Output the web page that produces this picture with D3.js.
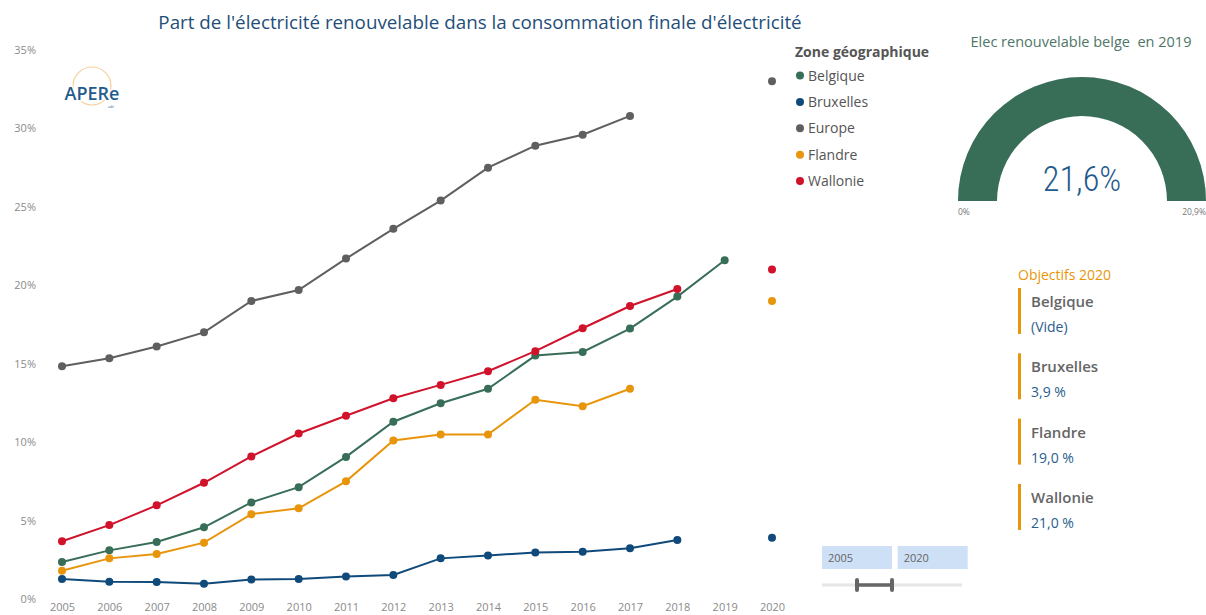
<!DOCTYPE html>
<html><head><meta charset="utf-8">
<script src="https://cdn.jsdelivr.net/npm/d3@7"></script>
<style>
body{margin:0;background:#fff;}
svg{display:block;font-family:"Open Sans","Noto Sans",sans-serif;}
</style></head>
<body><svg id="c" width="1206" height="615"></svg>
<script>
const years = [2005,2006,2007,2008,2009,2010,2011,2012,2013,2014,2015,2016,2017,2018,2019,2020];
const zones = ["Belgique","Bruxelles","Europe","Flandre","Wallonie"];
const colors = ["#386e58","#0f4a7b","#5f5f5f","#e8950c","#d1122b"];
const belgique = [2.36,3.1,3.63,4.57,6.16,7.13,9.06,11.3,12.48,13.4,15.52,15.75,17.24,19.28,21.6,null];
const bruxelles = [1.27,1.1,1.08,0.98,1.25,1.27,1.44,1.53,2.59,2.78,2.97,3.01,3.23,3.76,null,3.9];
const europe = [14.84,15.35,16.1,17.0,19.0,19.7,21.7,23.6,25.4,27.5,28.9,29.6,30.8,null,null,33.0];
const flandre = [1.8,2.59,2.87,3.59,5.41,5.78,7.5,10.1,10.49,10.49,12.7,12.29,13.4,null,null,19.0];
const wallonie = [3.68,4.71,5.97,7.41,9.09,10.55,11.68,12.8,13.65,14.52,15.8,17.26,18.68,19.76,null,21.0];
const seriesValues = [belgique,bruxelles,europe,flandre,wallonie];
const yTicks = [0,5,10,15,20,25,30,35];
const chartTitle = "Part de l'électricité renouvelable dans la consommation finale d'électricité";
const gaugeTitle = "Elec renouvelable belge  en 2019";
const gaugeValue = 21.6, gaugeMin = 0, gaugeMax = 20.9;
const gaugeLabel = "21,6%", gaugeMinLabel = "0%", gaugeMaxLabel = "20,9%";
const objectifsTitle = "Objectifs 2020";
const objectifsZones = ["Belgique","Bruxelles","Flandre","Wallonie"];
const objectifsValues = ["(Vide)","3,9 %","19,0 %","21,0 %"];
const sliderLabels = ["2005","2020"];

const svg = d3.select("#c");
const x = d3.scaleLinear().domain([2005,2020]).range([62,772]);
const y = d3.scaleLinear().domain([0,35]).range([599,50]);

// title
svg.append("text").attr("x",480).attr("y",29).attr("text-anchor","middle")
  .attr("fill","#1f4e79").attr("font-size",18.8).text(chartTitle);

// y axis
const ya = svg.append("g").attr("transform","translate(36,0)")
  .call(d3.axisLeft(y).tickValues(yTicks).tickSize(0).tickPadding(0).tickFormat(d=>d+"%"));
ya.select(".domain").remove();
ya.selectAll("text").attr("fill","#8a8a8a").attr("font-size",11).attr("font-family","Open Sans, sans-serif");

// x axis
const xa = svg.append("g").attr("transform","translate(0,603)")
  .call(d3.axisBottom(x).tickValues(years).tickSize(0).tickPadding(0).tickFormat(d3.format("d")));
xa.select(".domain").remove();
xa.selectAll("text").attr("fill","#8a8a8a").attr("font-size",11).attr("font-family","Open Sans, sans-serif");

// logo
const logo = svg.append("g");
logo.append("circle").attr("cx",92).attr("cy",86).attr("r",19).attr("fill","none")
  .attr("stroke","#f6cf9a").attr("stroke-width",1.2);
logo.append("text").attr("x",92).attr("y",100).attr("text-anchor","middle")
  .attr("fill","#1f5b8c").attr("font-size",18).attr("font-weight",600)
  .attr("stroke","#fff").attr("stroke-width",3).attr("paint-order","stroke").text("APERe");
logo.append("text").attr("x",108).attr("y",108).attr("fill","#1f5b8c").attr("font-size",3).text("asbl");

// lines
const line = d3.line().defined(d=>d.v!=null).x(d=>x(d.year)).y(d=>y(d.v));
zones.forEach((z,i)=>{
  const data = years.map((yr,j)=>({year:yr,v:seriesValues[i][j]}));
  svg.append("path").datum(data).attr("d",line).attr("fill","none")
    .attr("stroke",colors[i]).attr("stroke-width",2);
  svg.append("g").selectAll("circle").data(data.filter(d=>d.v!=null)).join("circle")
    .attr("cx",d=>x(d.year)).attr("cy",d=>y(d.v)).attr("r",4).attr("fill",colors[i]);
});

// legend
svg.append("text").attr("x",795).attr("y",57).attr("fill","#555").attr("font-size",14)
  .attr("font-weight",700).text("Zone géographique");
zones.forEach((z,i)=>{
  const yy = 75.5 + i*26.4;
  svg.append("circle").attr("cx",800).attr("cy",yy).attr("r",4).attr("fill",colors[i]);
  svg.append("text").attr("x",808).attr("y",yy+5).attr("fill","#555").attr("font-size",14).text(z);
});

// gauge
const gcx = 1082, gcy = 201;
svg.append("text").attr("x",1081).attr("y",47).attr("text-anchor","middle").attr("fill","#4e7668")
  .attr("font-size",14.5).style("white-space","pre").text(gaugeTitle);
const gArc = d3.arc().innerRadius(85).outerRadius(124);
const gScale = d3.scaleLinear().domain([gaugeMin,gaugeMax]).range([-Math.PI/2,Math.PI/2]).clamp(true);
svg.append("path").attr("transform",`translate(${gcx},${gcy})`)
  .attr("d",gArc({startAngle:-Math.PI/2,endAngle:Math.PI/2})).attr("fill","#e8e8e8");
svg.append("path").attr("transform",`translate(${gcx},${gcy})`)
  .attr("d",gArc({startAngle:-Math.PI/2,endAngle:gScale(gaugeValue)})).attr("fill","#386e58");
svg.append("text").attr("x",gcx).attr("y",191).attr("text-anchor","middle").attr("fill","#1f5b8c")
  .attr("font-size",35).attr("font-weight",300).attr("font-family","Roboto Condensed, Roboto, sans-serif")
  .attr("transform",`translate(${gcx},0) scale(0.98,1) translate(${-gcx},0)`).text(gaugeLabel);
svg.append("text").attr("x",958).attr("y",215).attr("fill","#777").attr("font-size",8.5).text(gaugeMinLabel);
svg.append("text").attr("x",1206).attr("y",215).attr("text-anchor","end").attr("fill","#777").attr("font-size",8.5).text(gaugeMaxLabel);

// objectifs
svg.append("text").attr("x",1018).attr("y",280).attr("fill","#e8950c").attr("font-size",14).text(objectifsTitle);
objectifsZones.forEach((z,i)=>{
  const top = 288 + i*65.3;
  svg.append("rect").attr("x",1018).attr("y",top).attr("width",3).attr("height",46).attr("fill","#e8950c");
  svg.append("text").attr("x",1031).attr("y",top+19).attr("fill","#666").attr("font-size",15)
    .attr("font-weight",600).text(z);
  svg.append("text").attr("x",1031).attr("y",top+44).attr("fill","#2a5d8e").attr("font-size",14).text(objectifsValues[i]);
});

// slider
sliderLabels.forEach((s,i)=>{
  const bx = 822 + i*75.7;
  svg.append("rect").attr("x",bx).attr("y",546).attr("width",70).attr("height",23).attr("fill","#cde0f5");
  svg.append("text").attr("x",bx+6).attr("y",562).attr("fill","#666").attr("font-size",11).text(s);
});
svg.append("line").attr("x1",822).attr("x2",962).attr("y1",585).attr("y2",585).attr("stroke","#e6e6e6").attr("stroke-width",3);
svg.append("line").attr("x1",857).attr("x2",892).attr("y1",585).attr("y2",585).attr("stroke","#666").attr("stroke-width",3.5);
[857,892].forEach(hx=>{
  svg.append("rect").attr("x",hx-2).attr("y",578).attr("width",4).attr("height",14).attr("rx",2).attr("fill","#666");
});
</script></body></html>
